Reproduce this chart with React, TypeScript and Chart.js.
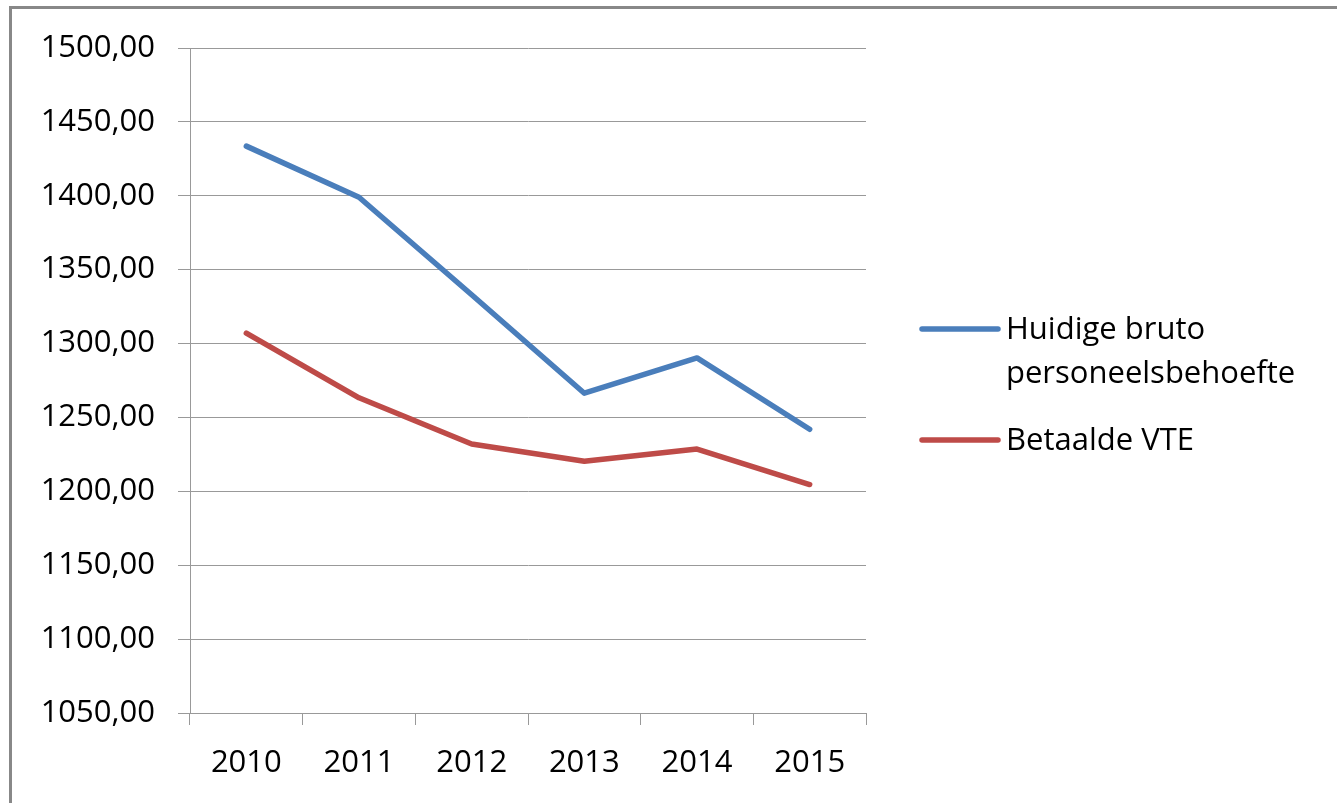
import React, { useEffect, useRef } from "react";
import { Chart, registerables } from "chart.js";

Chart.register(...registerables);

const years = ["2010", "2011", "2012", "2013", "2014", "2015"];
const brutoBehoefte = [1433.6, 1399.0, 1333.0, 1266.4, 1290.3, 1242.0];
const betaaldeVTE = [1307.0, 1263.3, 1232.0, 1220.4, 1228.6, 1204.6];
const seriesLabels = ["Huidige bruto\npersoneelsbehoefte", "Betaalde VTE"];
const seriesColors = ["#4A7EBB", "#BE4B48"];
const yMin = 1050;
const yMax = 1500;
const yStep = 50;

const FONT = "'Open Sans', 'Liberation Sans', sans-serif";
const FONT_SIZE = 31;
const GRID = "#999999";

const legendPlugin = {
  id: "sideLegend",
  afterDraw(chart: any) {
    const { ctx, chartArea } = chart;
    const x0 = chartArea.right + 56;
    const lineLen = 76;
    const textX = x0 + lineLen + 8;
    const lineH = 44;
    const starts = [329, 440];
    ctx.save();
    ctx.font = `${FONT_SIZE}px ${FONT}`;
    ctx.textBaseline = "middle";
    ctx.textAlign = "left";
    chart.data.datasets.forEach((ds: any, i: number) => {
      const y = starts[i];
      ctx.strokeStyle = ds.borderColor;
      ctx.lineWidth = 5.5;
      ctx.lineCap = "round";
      ctx.beginPath();
      ctx.moveTo(x0, y);
      ctx.lineTo(x0 + lineLen, y);
      ctx.stroke();
      ctx.fillStyle = "#000";
      String(ds.label)
        .split("\n")
        .forEach((t: string, j: number) => {
          ctx.fillText(t, textX, y + 1 + j * lineH);
        });
    });
    ctx.restore();
  },
};

export default function App() {
  const ref = useRef<HTMLCanvasElement | null>(null);
  useEffect(() => {
    if (!ref.current) return;
    const chart = new Chart(ref.current, {
      type: "line",
      data: {
        labels: years,
        datasets: [
          {
            label: seriesLabels[0],
            data: brutoBehoefte,
            borderColor: seriesColors[0],
            backgroundColor: seriesColors[0],
            borderWidth: 5.5,
            pointRadius: 0,
            tension: 0,
            borderCapStyle: "round",
            borderJoinStyle: "round",
          },
          {
            label: seriesLabels[1],
            data: betaaldeVTE,
            borderColor: seriesColors[1],
            backgroundColor: seriesColors[1],
            borderWidth: 5.5,
            pointRadius: 0,
            tension: 0,
            borderCapStyle: "round",
            borderJoinStyle: "round",
          },
        ],
      },
      options: {
        responsive: false,
        animation: false,
        layout: { padding: { top: 48, right: 471, left: 0, bottom: 0 } },
        plugins: { legend: { display: false }, tooltip: { enabled: false } },
        scales: {
          x: {
            type: "category",
            offset: true,
            grid: {
              offset: true,
              drawOnChartArea: false,
              drawTicks: true,
              tickLength: 12,
              color: GRID,
            },
            border: { display: true, color: GRID, width: 1 },
            ticks: {
              padding: 20,
              color: "#000",
              font: { family: FONT, size: FONT_SIZE },
              maxRotation: 0,
            },
            afterFit: (s: any) => {
              s.height = 90;
            },
          },
          y: {
            min: yMin,
            max: yMax,
            grid: {
              drawOnChartArea: true,
              drawTicks: true,
              tickLength: 12,
              color: GRID,
            },
            border: { display: true, color: GRID, width: 1 },
            ticks: {
              stepSize: yStep,
              padding: 23,
              color: "#000",
              font: { family: FONT, size: FONT_SIZE },
              callback: (v: any) => Number(v).toFixed(2).replace(".", ","),
            },
            afterFit: (s: any) => {
              s.width = 190;
            },
          },
        },
      },
      plugins: [legendPlugin],
    });
    return () => chart.destroy();
  }, []);

  return (
    <div
      style={{
        position: "fixed",
        left: 0,
        top: 0,
        width: 1337,
        height: 803,
        background: "#fff",
        overflow: "hidden",
      }}
    >
      <div
        style={{
          position: "absolute",
          left: 9,
          top: 6,
          width: 1400,
          height: 900,
          borderTop: "3px solid #888",
          borderLeft: "3px solid #888",
        }}
      />
      <canvas
        ref={ref}
        width={1337}
        height={803}
        style={{ position: "absolute", left: 0, top: 0 }}
      />
    </div>
  );
}
